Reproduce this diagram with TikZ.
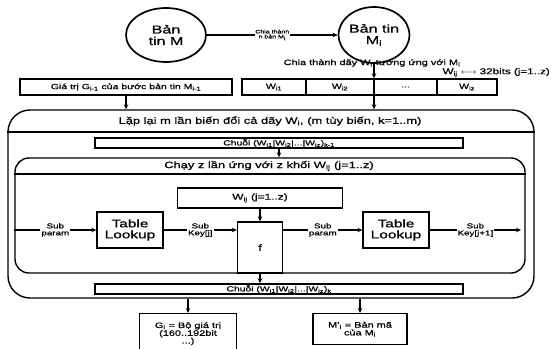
\documentclass[tikz,border=0pt]{standalone}
\usepackage{fontspec}
\setmainfont[FakeStretch=1.4,FakeBold=0.8]{Liberation Sans}
\usetikzlibrary{arrows.meta,shapes.geometric}
\newcommand\fsz[1]{\fontsize{#1}{#1}\selectfont}
\begin{document}
\begin{tikzpicture}[x=1pt,y=-1pt,
  box/.style={draw,line width=1.4pt,inner sep=0pt,align=center,font=\fsz{7.5}},
  ell/.style={draw,ellipse,line width=1.7pt,inner sep=0pt,align=center,font=\fsz{11.5}},
  arr/.style={-{Stealth[length=5pt,width=4.5pt]},line width=1.1pt},
  ln/.style={line width=1.1pt},
  lbl/.style={fill=white,inner sep=1pt,align=center,font=\fsz{7}},
  ttl/.style={inner sep=0pt,font=\fsz{9.2}},
  rbox/.style={draw,line width=1.4pt,inner sep=0pt}]
\useasboundingbox (0,0) rectangle (551,348);

% top ellipses
\node[ell,minimum width=80pt,minimum height=54pt] (e1) at (166,35) {Bản\\tin M};
\node[ell,minimum width=70pt,minimum height=56pt] (e2) at (374,35) {Bản tin\\M\textsubscript{i}};
\draw[arr] (e1.east) -- node[lbl,font=\fsz{5},inner sep=0.5pt]{Chia thành\\n bản M\textsubscript{i}} (e2.west);

\node[ttl,font=\fsz{7.8}] (split) at (372,63) {Chia thành dãy W\textsubscript{i} tương ứng với M\textsubscript{i}};
\node[ttl,font=\fsz{8.3},anchor=east] (bits) at (550,72.5) {W\textsubscript{ij} $\longleftrightarrow$ 32bits (j=1..z)};

% row of boxes
\node[box,minimum width=212pt,minimum height=16pt] (gprev) at (126,87) {Giá trị G\textsubscript{i-1} của bước bản tin M\textsubscript{i-1}};
\node[box,minimum width=64pt,minimum height=16pt] (w1) at (242+32,87) {W\textsubscript{i1}};
\node[box,minimum width=68pt,minimum height=16pt] (w2) at (306+34,87) {W\textsubscript{i2}};
\node[box,minimum width=63pt,minimum height=16pt] (wd) at (374+31.5,87) {...};
\node[box,minimum width=60pt,minimum height=16pt] (wz) at (437+30,87) {W\textsubscript{iz}};

% outer loop box
\node[rbox,rounded corners=22pt,minimum width=526pt,minimum height=188pt] (outer) at (271,204) {};
\node[ttl] (t1) at (270,121) {Lặp lại m lần biến đổi cả dãy W\textsubscript{i}, (m tùy biến, k=1..m)};
\draw[ln] (outer.west |- 0,132) -- (outer.east |- 0,132);

\draw[arr] (e2.south) -- (e2.south |- w2.north);
\draw[arr] (e2.south |- w2.south) -- (e2.south |- outer.north);
\draw[arr] (gprev.south) -- (gprev.south |- outer.north);

\node[box,minimum width=368pt,minimum height=10pt,font=\fsz{7.4}] (c1) at (279,143) {Chuỗi (W\textsubscript{i1}|W\textsubscript{i2}|...|W\textsubscript{iz})\textsubscript{k-1}};

% inner loop box
\node[rbox,rounded corners=14pt,minimum width=510pt,minimum height=115pt] (inner) at (270,215.5) {};
\node[ttl] (t2) at (269,166) {Chạy z lần ứng với z khối W\textsubscript{ij} (j=1..z)};
\draw[ln] (inner.west |- 0,174) -- (inner.east |- 0,174);
\draw[arr] (c1.south) -- (c1.south |- inner.north);

\node[box,minimum width=165pt,minimum height=20pt,font=\fsz{8.5}] (wij) at (260,198) {W\textsubscript{ij} (j=1..z)};
\node[box,minimum width=45pt,minimum height=51pt,font=\fsz{9}] (f) at (260,247.5) {f};
\node[box,minimum width=66pt,minimum height=36pt,font=\fsz{11}] (tl1) at (130,230) {Table\\Lookup};
\node[box,minimum width=66pt,minimum height=36pt,font=\fsz{11}] (tl2) at (396,230) {Table\\Lookup};
\coordinate (kend) at (521,230);

\draw[arr] (wij.south) -- (f.north);
\draw[arr] (inner.west |- tl1.west) -- node[lbl]{Sub\\param} (tl1.west);
\draw[arr] (tl1.east) -- node[lbl]{Sub\\Key[j]} (f.west |- tl1.east);
\draw[arr] (f.east |- tl2.west) -- node[lbl]{Sub\\param} (tl2.west);
\draw[arr] (tl2.east) -- node[lbl]{Sub\\Key[j+1]} (kend);

\node[box,minimum width=368pt,minimum height=10pt,font=\fsz{7.4}] (c2) at (279,289) {Chuỗi (W\textsubscript{i1}|W\textsubscript{i2}|...|W\textsubscript{iz})\textsubscript{k}};
\draw[arr] (f.south) -- (f.south |- c2.north);

% outputs
\node[box,minimum width=97pt,minimum height=40pt,font=\fsz{7.8},anchor=north] (g) at (188,313) {G\textsubscript{i} = Bộ giá trị\\(160..192bit\\...)};
\node[box,minimum width=94pt,minimum height=31pt,font=\fsz{7.8},anchor=north] (m) at (360,313) {M'\textsubscript{i} = Bản mã\\của M\textsubscript{i}};
\draw[arr] (outer.south -| g.north) -- (g.north);
\draw[arr] (outer.south -| m.north) -- (m.north);
\end{tikzpicture}
\end{document}
